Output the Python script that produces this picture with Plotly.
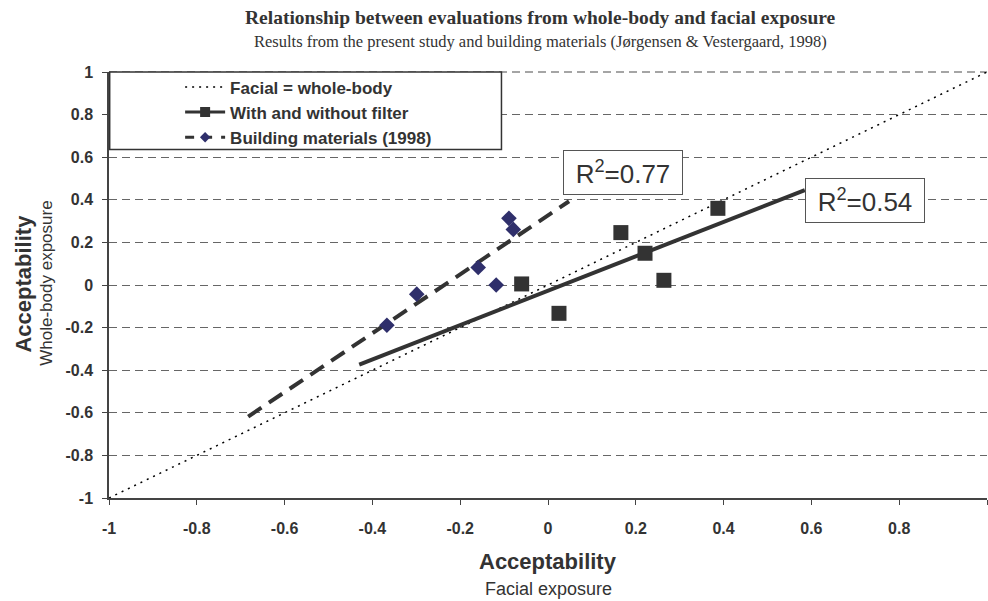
import numpy as np
import plotly.graph_objects as go

# ---------------- data ----------------
filter_x = [-0.06, 0.025, 0.166, 0.221, 0.264, 0.387]
filter_y = [0.005, -0.133, 0.246, 0.149, 0.022, 0.360]

building_x = [-0.367, -0.299, -0.159, -0.118, -0.089, -0.079]
building_y = [-0.189, -0.043, 0.082, 0.000, 0.313, 0.261]

filter_trend_extent = [-0.43, 0.585]
building_trend_extent = [-0.683, 0.048]

identity_x = [-1, 1]
identity_y = [-1, 1]

r2_filter_label = "R<sup>2</sup>=0.54"
r2_building_label = "R<sup>2</sup>=0.77"

tick_vals = [-1, -0.8, -0.6, -0.4, -0.2, 0, 0.2, 0.4, 0.6, 0.8, 1]
tick_text = ["-1", "-0.8", "-0.6", "-0.4", "-0.2", "0", "0.2", "0.4", "0.6", "0.8", "1"]

legend_names = ["Facial = whole-body", "With and without filter", "Building materials (1998)"]

# ---------------- styles ----------------
SANS = "Liberation Sans, Arial, sans-serif"
SERIF = "Liberation Serif, Times New Roman, serif"
TXT = "#333333"
SQ_COL = "#333333"
DIA_COL = "#2f2f6b"


def trend(xs, ys, extent):
    slope, intercept = np.polyfit(xs, ys, 1)
    ex = np.array(extent)
    return ex, slope * ex + intercept


fx, fy = trend(filter_x, filter_y, filter_trend_extent)
bx, by = trend(building_x, building_y, building_trend_extent)

fig = go.Figure()

dot_line = dict(color="black", width=1.5, dash="2px,5px")
solid_line = dict(color=SQ_COL, width=4)
dash_line = dict(color=SQ_COL, width=4, dash="16px,9px")

# identity line
fig.add_trace(go.Scatter(x=identity_x, y=identity_y, mode="lines", line=dot_line,
                         showlegend=False, hoverinfo="skip"))
# trend lines
fig.add_trace(go.Scatter(x=fx, y=fy, mode="lines", line=solid_line,
                         showlegend=False, hoverinfo="skip"))
fig.add_trace(go.Scatter(x=bx, y=by, mode="lines", line=dash_line,
                         showlegend=False, hoverinfo="skip"))
# data points
fig.add_trace(go.Scatter(x=building_x, y=building_y, mode="markers",
                         marker=dict(symbol="diamond", size=12, color=DIA_COL, line=dict(width=0)),
                         showlegend=False))
fig.add_trace(go.Scatter(x=filter_x, y=filter_y, mode="markers",
                         marker=dict(symbol="square", size=15, color=SQ_COL, line=dict(width=0)),
                         showlegend=False))

# legend-only entries
fig.add_trace(go.Scatter(x=[None], y=[None], mode="lines", line=dot_line, name=legend_names[0]))
fig.add_trace(go.Scatter(x=[None], y=[None], mode="lines+markers", line=dict(color=SQ_COL, width=3),
                         marker=dict(symbol="square", size=10, color=SQ_COL), name=legend_names[1]))
fig.add_trace(go.Scatter(x=[None], y=[None], mode="lines+markers", line=dict(color=SQ_COL, width=3, dash="9px,9px"),
                         marker=dict(symbol="diamond", size=8, color=DIA_COL), name=legend_names[2]))

axis_common = dict(
    range=[-1, 1], tickvals=tick_vals, ticktext=tick_text,
    tickfont=dict(family=SANS, size=16, color=TXT, weight="bold"),
    ticks="outside", ticklen=5, tickcolor="#444444", tickwidth=1,
    showline=True, linecolor="#444444", linewidth=1.5,
    zeroline=False, fixedrange=True,
)

fig.update_xaxes(**axis_common, showgrid=False, ticklabelstandoff=10)
fig.update_yaxes(**axis_common, showgrid=True, gridcolor="#666666", gridwidth=1,
                 griddash="8px,5px", ticklabelstandoff=6)

annotations = [
    dict(text="<b>Relationship between evaluations from whole-body and facial exposure</b>",
         xref="paper", yref="paper", x=0.491, y=1.127, xanchor="center", yanchor="middle",
         showarrow=False, font=dict(family=SERIF, size=19.5, color=TXT)),
    dict(text="Results from the present study and building materials (Jørgensen &amp; Vestergaard, 1998)",
         xref="paper", yref="paper", x=0.491, y=1.072, xanchor="center", yanchor="middle",
         showarrow=False, font=dict(family=SERIF, size=16.5, color=TXT)),
    dict(text="<b>Acceptability</b>", xref="paper", yref="paper", x=0.5, y=-0.148,
         xanchor="center", yanchor="middle", showarrow=False,
         font=dict(family=SANS, size=22, color=TXT)),
    dict(text="Facial exposure", xref="paper", yref="paper", x=0.5, y=-0.213,
         xanchor="center", yanchor="middle", showarrow=False,
         font=dict(family=SANS, size=18, color=TXT)),
    dict(text="<b>Acceptability</b>", xref="paper", yref="paper", x=-0.097, y=0.503,
         xanchor="center", yanchor="middle", showarrow=False, textangle=-90,
         font=dict(family=SANS, size=22, color=TXT)),
    dict(text="Whole-body exposure", xref="paper", yref="paper", x=-0.0706, y=0.503,
         xanchor="center", yanchor="middle", showarrow=False, textangle=-90,
         font=dict(family=SANS, size=17, color=TXT)),
    dict(text=r2_building_label, x=0.171, y=0.528, xref="x", yref="y", showarrow=False,
         xanchor="center", yanchor="middle", width=110, height=35, borderpad=4,
         bordercolor="#555555", borderwidth=1, bgcolor="white",
         font=dict(family=SANS, size=26, color=TXT)),
    dict(text=r2_filter_label, x=0.723, y=0.399, xref="x", yref="y", showarrow=False,
         xanchor="center", yanchor="middle", width=110, height=35, borderpad=4,
         bordercolor="#555555", borderwidth=1, bgcolor="white",
         font=dict(family=SANS, size=26, color=TXT)),
]

shapes = [
    dict(type="line", xref="paper", yref="paper", x0=0, x1=1, y0=1, y1=1,
         line=dict(color="#888888", width=1.5, dash="8px,5px"), layer="below"),
    dict(type="rect", xref="paper", yref="paper", x0=0.0008, x1=0.447, y0=0.818, y1=1.0,
         line=dict(color="#333333", width=1.5), fillcolor="white", layer="above"),
]

fig.update_layout(
    width=988, height=601,
    margin=dict(l=109, r=1, t=72, b=103),
    paper_bgcolor="white", plot_bgcolor="white",
    annotations=annotations, shapes=shapes,
    showlegend=True,
    legend=dict(x=0.081, y=1.006, xanchor="left", yanchor="top",
                bgcolor="rgba(0,0,0,0)", borderwidth=0,
                font=dict(family=SANS, size=17, color=TXT, weight="bold"),
                itemwidth=40, tracegroupgap=0),
    font=dict(family=SANS, color=TXT),
)

fig.write_html("out.html", config={"displayModeBar": False})
